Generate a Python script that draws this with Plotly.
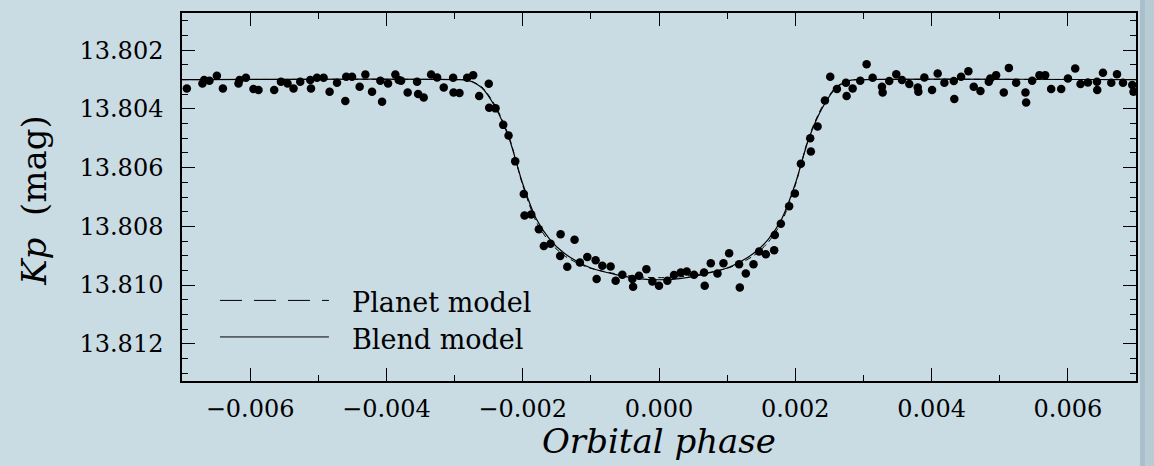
import plotly.graph_objects as go

# Observed light-curve points: orbital phase and Kp magnitude
phase = [-0.006929, -0.006700, -0.006675, -0.006597, -0.006488, -0.006400, -0.006171, -0.006156,
         -0.006062, -0.005951, -0.005877, -0.005647, -0.005548, -0.005451, -0.005363, -0.005265,
         -0.005118, -0.005107, -0.005019, -0.004922, -0.004834, -0.004725, -0.004603, -0.004590,
         -0.004505, -0.004393, -0.004309, -0.004211, -0.004089, -0.004064, -0.003976, -0.003869,
         -0.003820, -0.003785, -0.003688, -0.003550, -0.003535, -0.003453, -0.003344, -0.003256,
         -0.003159, -0.003021, -0.003015, -0.002928, -0.002815, -0.002727, -0.002639, -0.002498,
         -0.002492, -0.002399, -0.002286, -0.002208, -0.002110, -0.001984, -0.001973, -0.001875,
         -0.001763, -0.001690, -0.001591, -0.001444, -0.001450, -0.001346, -0.001239, -0.001161,
         -0.001052, -0.000930, -0.000915, -0.000832, -0.000710, -0.000636, -0.000538, -0.000391,
         -0.000380, -0.000294, -0.000185, -0.000097, 0.000000, 0.000123, 0.000220, 0.000319,
         0.000407, 0.000514, 0.000661, 0.000671, 0.000760, 0.000858, 0.000946, 0.001029,
         0.001175, 0.001186, 0.001274, 0.001387, 0.001469, 0.001568, 0.001690, 0.001700,
         0.001788, 0.001910, 0.001994, 0.002082, 0.002219, 0.002229, 0.002327, 0.002435,
         0.002513, 0.002611, 0.002743, 0.002753, 0.002842, 0.002953, 0.003047, 0.003135,
         0.003272, 0.003282, 0.003379, 0.003482, 0.003566, 0.003673, 0.003797, 0.003806,
         0.003894, 0.004007, 0.004090, 0.004188, 0.004326, 0.004334, 0.004433, 0.004540,
         0.004619, 0.004717, 0.004840, 0.004863, 0.004947, 0.005060, 0.005134, 0.005241,
         0.005378, 0.005388, 0.005476, 0.005583, 0.005667, 0.005755, 0.005902, 0.006001,
         0.006108, 0.006186, 0.006294, 0.006427, 0.006431, 0.006515, 0.006637, 0.006721,
         0.006809, 0.006945, 0.006964]

kp_mag = [13.803302, 13.803132, 13.803017, 13.803041, 13.802871, 13.803302, 13.803132, 13.803017,
          13.802939, 13.803322, 13.803356, 13.803356, 13.803075, 13.803132, 13.803302, 13.803075,
          13.803017, 13.803302, 13.802939, 13.802939, 13.803414, 13.803108, 13.803729, 13.802905,
          13.802905, 13.803244, 13.802827, 13.803414, 13.803041, 13.803753, 13.803132, 13.802827,
          13.803017, 13.803041, 13.803437, 13.803075, 13.803492, 13.803607, 13.802827, 13.802929,
          13.803268, 13.802939, 13.803437, 13.803458, 13.802939, 13.802847, 13.803559, 13.803142,
          13.803956, 13.803980, 13.804542, 13.804905, 13.805786, 13.806895, 13.807627, 13.807593,
          13.808102, 13.808668, 13.808590, 13.808271, 13.809007, 13.809380, 13.808454, 13.809234,
          13.809041, 13.809153, 13.809797, 13.809346, 13.809369, 13.809854, 13.809651, 13.809797,
          13.810058, 13.809685, 13.809458, 13.809878, 13.810024, 13.809854, 13.809661, 13.809573,
          13.809539, 13.809651, 13.809573, 13.810024, 13.809254, 13.809607, 13.809254, 13.808915,
          13.809288, 13.810081, 13.809607, 13.809288, 13.808861, 13.808949, 13.808814, 13.808295,
          13.807912, 13.807312, 13.806881, 13.805864, 13.804997, 13.805447, 13.804600, 13.803708,
          13.802905, 13.803322, 13.803108, 13.803559, 13.803302, 13.803041, 13.802475, 13.802939,
          13.803244, 13.803437, 13.803051, 13.802814, 13.803017, 13.803153, 13.803268, 13.803414,
          13.802929, 13.803356, 13.802793, 13.803108, 13.803051, 13.803661, 13.802905, 13.802712,
          13.803244, 13.803390, 13.803075, 13.802963, 13.802847, 13.803437, 13.802600, 13.803108,
          13.803437, 13.803776, 13.803041, 13.802847, 13.802847, 13.803322, 13.803322, 13.802963,
          13.802624, 13.803153, 13.803098, 13.803075, 13.803356, 13.802769, 13.803108, 13.802814,
          13.803108, 13.803186, 13.803414]

# Model curves
model_phase = [-0.0070, -0.0030, -0.0028, -0.0026, -0.0024, -0.0022, -0.0020, -0.0018, -0.0016,
               -0.0014, -0.0012, -0.0010, -0.0006, -0.0003, 0.0000, 0.0003, 0.0006, 0.0010,
               0.0012, 0.0014, 0.0016, 0.0018, 0.0020, 0.0022, 0.0024, 0.0026, 0.0028, 0.0030, 0.0070]
planet_model = [13.80300, 13.80300, 13.80302, 13.80325, 13.80390, 13.80495, 13.80660, 13.80785,
                13.80855, 13.80898, 13.80925, 13.80943, 13.80963, 13.80972, 13.80975, 13.80972,
                13.80963, 13.80943, 13.80925, 13.80898, 13.80855, 13.80785, 13.80660, 13.80495,
                13.80390, 13.80325, 13.80302, 13.80300, 13.80300]
blend_model = [13.80300, 13.80300, 13.80303, 13.80328, 13.80395, 13.80500, 13.80655, 13.80775,
               13.80845, 13.80890, 13.80920, 13.80942, 13.80966, 13.80978, 13.80982, 13.80978,
               13.80966, 13.80942, 13.80920, 13.80890, 13.80845, 13.80775, 13.80655, 13.80500,
               13.80395, 13.80328, 13.80303, 13.80300, 13.80300]

legend_labels = ["Planet model", "Blend model"]

BG = "#c9dbe3"
FONT = "DejaVu Serif"

fig = go.Figure()
fig.add_trace(go.Scatter(x=model_phase, y=planet_model, mode="lines",
                         line=dict(color="black", width=1, dash="6px,4px", shape="spline", smoothing=0.8),
                         showlegend=False))
fig.add_trace(go.Scatter(x=model_phase, y=blend_model, mode="lines",
                         line=dict(color="black", width=1.2, shape="spline", smoothing=0.8),
                         showlegend=False))
fig.add_trace(go.Scatter(x=phase, y=kp_mag, mode="markers",
                         marker=dict(color="black", size=8.5, line=dict(width=0)),
                         showlegend=False, cliponaxis=True))

axis_common = dict(showgrid=False, zeroline=False, showline=True, linecolor="black", linewidth=1.5,
                   mirror="ticks", ticks="inside", ticklen=13, tickwidth=1.3, tickcolor="black",
                   tickfont=dict(family=FONT, size=24, color="black"))

fig.update_xaxes(range=[-0.007, 0.007], tick0=0, dtick=0.002, tickformat=".3f",
                 minor=dict(ticks="inside", ticklen=6, dtick=0.001, tick0=0, tickcolor="black", tickwidth=1.3),
                 ticklabelstandoff=5, **axis_common)
fig.update_yaxes(range=[13.81327, 13.80073], tick0=13.800, dtick=0.002, tickformat=".3f",
                 minor=dict(ticks="inside", ticklen=6, dtick=0.0005, tick0=13.800, tickcolor="black", tickwidth=1.3),
                 ticklabelstandoff=12, **axis_common)

# legend drawn manually
fig.add_shape(type="line", xref="paper", yref="paper", x0=0.0398, x1=0.154, y0=0.219, y1=0.219,
              line=dict(color="black", width=1, dash="22px,12px"))
fig.add_shape(type="line", xref="paper", yref="paper", x0=0.0398, x1=0.154, y0=0.1197, y1=0.1197,
              line=dict(color="black", width=1))
for lbl, yy in zip(legend_labels, [0.212, 0.112]):
    fig.add_annotation(text=lbl, xref="paper", yref="paper", x=0.176, y=yy, xanchor="left",
                       yanchor="middle", showarrow=False, font=dict(family=FONT, size=27, color="black"))

# axis titles
fig.add_annotation(text="<i>Orbital phase</i>", xref="paper", yref="paper", x=0.5, y=-0.162,
                   xanchor="center", yanchor="middle", showarrow=False,
                   font=dict(family=FONT, size=34, color="black"))
fig.add_annotation(text="<i>Kp</i>&nbsp;&nbsp;(mag)", xref="paper", yref="paper", x=-0.155, y=0.49,
                   xanchor="center", yanchor="middle", textangle=-90, showarrow=False,
                   font=dict(family=FONT, size=34, color="black"))

# right-edge strip of the slide background
fig.add_shape(type="rect", xref="paper", yref="paper", x0=1.0042, x1=1.0094, y0=-0.3, y1=1.1,
              fillcolor="#a9bfcb", line=dict(width=0), layer="below")
fig.add_shape(type="rect", xref="paper", yref="paper", x0=1.0094, x1=1.03, y0=-0.3, y1=1.1,
              fillcolor="#b8ccd6", line=dict(width=0), layer="below")

fig.update_layout(width=1154, height=466, margin=dict(l=182, r=18, t=11, b=85),
                  paper_bgcolor=BG, plot_bgcolor=BG, showlegend=False)

fig.write_html("out.html")
